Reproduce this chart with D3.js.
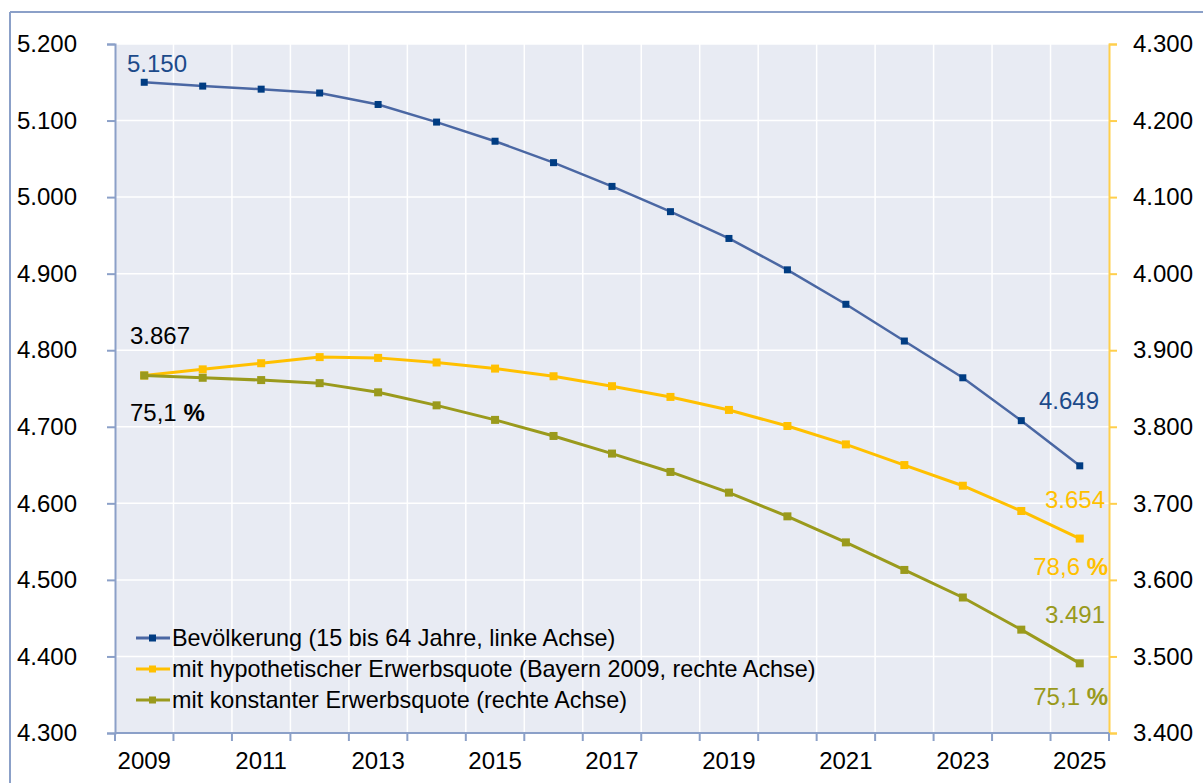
<!DOCTYPE html>
<html><head><meta charset="utf-8">
<script src="https://cdn.jsdelivr.net/npm/d3@7"></script>
<style>
html,body{margin:0;padding:0;background:#fff;}
svg{display:block;font-family:"Liberation Sans",Arial,sans-serif;}
</style></head>
<body><svg id="c" width="1203" height="783"></svg>
<script>
const years = [2009,2010,2011,2012,2013,2014,2015,2016,2017,2018,2019,2020,2021,2022,2023,2024,2025];
const bevoelkerung = [5150,5145,5141,5136,5121,5098,5073,5045,5014,4981,4946,4905,4860,4812,4764,4708,4649];
const hypothetisch = [3867,3875,3883,3891,3890,3884,3876,3866,3853,3839,3822,3801,3777,3750,3723,3690,3654];
const konstant = [3867,3864,3861,3857,3845,3828,3809,3788,3765,3741,3714,3683,3649,3613,3577,3535,3491];
const leftTicks = [4300,4400,4500,4600,4700,4800,4900,5000,5100,5200];
const rightTicks = [3400,3500,3600,3700,3800,3900,4000,4100,4200,4300];
const yearLabels = [2009,2011,2013,2015,2017,2019,2021,2023,2025];
const legendNames = ["Bevölkerung (15 bis 64 Jahre, linke Achse)","mit hypothetischer Erwerbsquote (Bayern 2009, rechte Achse)","mit konstanter Erwerbsquote (rechte Achse)"];

const C_BLUE_LINE="#4a67a3", C_BLUE_MARK="#003c82", C_BLUE_TXT="#1c4a8a";
const C_YEL="#ffc000", C_OLI="#9a9a1c", C_AXIS="#8ba0c8", C_RAXIS="#ffcf4d";

const loc = d3.formatLocale({decimal:",",thousands:".",grouping:[3],currency:["","€"]});
const fmt = loc.format(",d");

const svg = d3.select("#c");
const L=115, R=1109, T=44, B=733;
const FS=24;
const x = d3.scaleBand().domain(years).range([L,R]).padding(0);
const yL = d3.scaleLinear().domain([4300,5200]).range([B,T]);
const yR = d3.scaleLinear().domain([3400,4300]).range([B,T]);
const cx = d => x(d)+x.bandwidth()/2;

// outer frame
svg.append("line").attr("x1",10).attr("x2",10).attr("y1",12).attr("y2",783).attr("stroke",C_AXIS).attr("stroke-width",2);
svg.append("line").attr("x1",10).attr("x2",1203).attr("y1",12).attr("y2",12).attr("stroke",C_AXIS).attr("stroke-width",2);

// plot bg
svg.append("rect").attr("x",L).attr("y",T).attr("width",R-L).attr("height",B-T).attr("fill","#e8ebf3");

// gridlines
svg.append("g").selectAll("line").data(leftTicks.slice(1)).join("line")
  .attr("x1",L).attr("x2",R).attr("y1",d=>yL(d)).attr("y2",d=>yL(d)).attr("stroke","#fff").attr("stroke-width",1.5);
svg.append("g").selectAll("line").data(years.slice(1)).join("line")
  .attr("x1",d=>x(d)).attr("x2",d=>x(d)).attr("y1",T).attr("y2",B).attr("stroke","#fff").attr("stroke-width",1.5);

// left axis
const gl = svg.append("g").attr("transform",`translate(${L},0)`)
  .call(d3.axisLeft(yL).tickValues(leftTicks).tickFormat(fmt).tickSize(8).tickPadding(30));
gl.select(".domain").attr("stroke",C_AXIS).attr("stroke-width",2);
gl.selectAll(".tick line").attr("stroke",C_AXIS).attr("stroke-width",2);
gl.selectAll(".tick text").attr("fill","#000").style("font-size",FS+"px").style("font-family","Liberation Sans, Arial, sans-serif");

// right axis
const gr = svg.append("g").attr("transform",`translate(${R},0)`)
  .call(d3.axisRight(yR).tickValues(rightTicks).tickFormat(fmt).tickSize(8).tickPadding(16));
gr.select(".domain").attr("stroke",C_RAXIS).attr("stroke-width",2);
gr.selectAll(".tick line").attr("stroke",C_RAXIS).attr("stroke-width",2);
gr.selectAll(".tick text").attr("fill","#000").style("font-size",FS+"px").style("font-family","Liberation Sans, Arial, sans-serif");

// bottom axis
svg.append("line").attr("x1",L).attr("x2",R).attr("y1",B).attr("y2",B).attr("stroke",C_AXIS).attr("stroke-width",2);
svg.append("g").selectAll("line").data(years.concat(["end"])).join("line")
  .attr("x1",d=>d==="end"?x(years[years.length-1])+x.bandwidth():x(d))
  .attr("x2",d=>d==="end"?x(years[years.length-1])+x.bandwidth():x(d))
  .attr("y1",B).attr("y2",B+8).attr("stroke",C_AXIS).attr("stroke-width",2);
svg.append("g").selectAll("text").data(yearLabels).join("text")
  .attr("x",d=>cx(d)).attr("y",769).attr("text-anchor","middle").attr("font-size",FS).attr("fill","#000").text(d=>d);

// series
function series(vals, y, lineCol, markCol, lw, ms){
  const g = svg.append("g");
  g.append("path").datum(vals).attr("fill","none").attr("stroke",lineCol).attr("stroke-width",lw)
    .attr("d", d3.line().x((d,i)=>cx(years[i])).y(d=>y(d)));
  g.selectAll("rect").data(vals).join("rect")
    .attr("x",(d,i)=>cx(years[i])-ms/2).attr("y",d=>y(d)-ms/2).attr("width",ms).attr("height",ms).attr("fill",markCol);
}
series(hypothetisch, yR, C_YEL, C_YEL, 3, 8);
series(konstant, yR, C_OLI, C_OLI, 3, 8);
series(bevoelkerung, yL, C_BLUE_LINE, C_BLUE_MARK, 2.5, 7);

// data labels
function lab(txt, xx, yy, col, anchor, pct){
  const t = svg.append("text").attr("x",xx).attr("y",yy).attr("fill",col).attr("font-size",FS).attr("text-anchor",anchor);
  t.append("tspan").text(txt);
  if(pct) t.append("tspan").attr("font-weight","bold").text("%");
}
lab(fmt(bevoelkerung[0]),127,72,C_BLUE_TXT,"start");
lab(fmt(hypothetisch[0]),130,344,"#000","start");
lab("75,1 ",130,421,"#000","start",true);
lab(fmt(bevoelkerung[16]),1099,409,C_BLUE_TXT,"end");
lab(fmt(hypothetisch[16]),1105,508,C_YEL,"end");
lab("78,6 ",1108,575,C_YEL,"end",true);
lab(fmt(konstant[16]),1105,623,C_OLI,"end");
lab("75,1 ",1108,705,C_OLI,"end",true);

// legend
const legCols=[[C_BLUE_LINE,C_BLUE_MARK],[C_YEL,C_YEL],[C_OLI,C_OLI]];
const lg = svg.append("g");
legendNames.forEach((n,i)=>{
  const yy = 638 + i*31;
  lg.append("line").attr("x1",136).attr("x2",170).attr("y1",yy).attr("y2",yy).attr("stroke",legCols[i][0]).attr("stroke-width",3);
  lg.append("rect").attr("x",149).attr("y",yy-3.5).attr("width",7).attr("height",7).attr("fill",legCols[i][1]);
  lg.append("text").attr("x",172).attr("y",yy+8).attr("font-size",23.4).attr("fill","#000").text(n);
});
</script></body></html>
